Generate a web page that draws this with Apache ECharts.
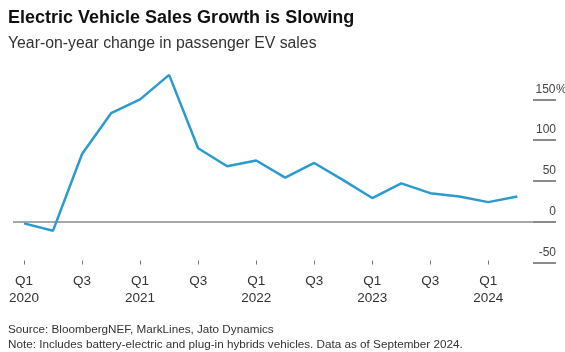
<!DOCTYPE html>
<html>
<head>
<meta charset="utf-8">
<script src="https://cdn.jsdelivr.net/npm/echarts@6/dist/echarts.min.js"></script>
<style>
  html, body { margin: 0; padding: 0; background: #fff; }
  #chart { width: 565px; height: 352px; }
</style>
</head>
<body>
<div id="chart"></div>
<script>
// Quarterly year-on-year change in passenger EV sales (%)
const quarters = [
  'Q1 2020', 'Q2 2020', 'Q3 2020', 'Q4 2020',
  'Q1 2021', 'Q2 2021', 'Q3 2021', 'Q4 2021',
  'Q1 2022', 'Q2 2022', 'Q3 2022', 'Q4 2022',
  'Q1 2023', 'Q2 2023', 'Q3 2023', 'Q4 2023',
  'Q1 2024', 'Q2 2024'
];
const yoyChange = [
  -2, -11, 83, 133,
  150, 180, 90, 68,
  75, 54, 72, 51,
  29, 47, 35, 31,
  24, 31
];
// Axis labels
const xTickIndex = [0, 2, 4, 6, 8, 10, 12, 14, 16];
const xTickLabels = ['Q1\n2020', 'Q3', 'Q1\n2021', 'Q3', 'Q1\n2022', 'Q3', 'Q1\n2023', 'Q3', 'Q1\n2024'];
const yTickValues = [-50, 0, 50, 100, 150];

const titleText = 'Electric Vehicle Sales Growth is Slowing';
const subtitleText = 'Year-on-year change in passenger EV sales';
const sourceText = 'Source: BloombergNEF, MarkLines, Jato Dynamics';
const noteText = 'Note: Includes battery-electric and plug-in hybrids vehicles. Data as of September 2024.';

const FONT = '"Liberation Sans", Arial, Helvetica, sans-serif';

const chart = echarts.init(document.getElementById('chart'), null, { renderer: 'canvas' });

chart.setOption({
  animation: false,
  backgroundColor: '#fff',
  textStyle: { fontFamily: FONT },
  title: [
    {
      text: titleText,
      left: 8, top: 9, padding: 0,
      textStyle: { fontFamily: FONT, fontSize: 18, fontWeight: 'bold', color: '#111' }
    },
    {
      text: subtitleText,
      left: 8, top: 36, padding: 0,
      textStyle: { fontFamily: FONT, fontSize: 15.8, fontWeight: 'normal', color: '#333' }
    },
    {
      text: sourceText + '\n' + noteText,
      left: 8, top: 322, padding: 0,
      textStyle: { fontFamily: FONT, fontSize: 11.7, fontWeight: 'normal', color: '#333', lineHeight: 15 }
    }
  ],
  // the y-axis sits at the right edge of the plot; its ticks continue the zero line
  grid: { left: 13, right: 32, top: 66.7, bottom: 89.5, containLabel: false, outerBoundsMode: 'none' },
  xAxis: {
    type: 'value',
    min: -0.38,
    max: 17.54,
    offset: -2,
    splitLine: { show: false },
    axisLine: { show: false, onZero: false },
    axisTick: {
      show: true,
      length: 4,
      customValues: xTickIndex,
      lineStyle: { color: '#777', width: 1 }
    },
    axisLabel: {
      customValues: xTickIndex,
      formatter: function (v) {
        const i = xTickIndex.indexOf(Math.round(v));
        return i >= 0 ? xTickLabels[i] : '';
      },
      margin: 12,
      lineHeight: 17,
      fontSize: 13.5,
      color: '#333',
      fontFamily: FONT
    }
  },
  yAxis: {
    type: 'value',
    position: 'right',
    min: -50,
    max: 190,
    splitLine: { show: false },
    axisLine: { show: false, onZero: false },
    axisTick: {
      show: true,
      length: 23,
      customValues: yTickValues,
      lineStyle: { color: '#666', width: 1.5 }
    },
    axisLabel: {
      margin: 2,
      customValues: yTickValues,
      verticalAlign: 'bottom',
      align: 'left',
      formatter: function (v) {
        return v === 150 ? '{n|150}{p|%}' : '{n|' + v + '}';
      },
      rich: {
        n: { fontSize: 12, color: '#444', fontFamily: FONT, width: 21, align: 'right', padding: [0, 0, 4, 0] },
        p: { fontSize: 12, color: '#444', fontFamily: FONT, padding: [0, 0, 4, 0] }
      }
    }
  },
  series: [
    {
      type: 'line',
      data: yoyChange.map((v, i) => [i, v]),
      showSymbol: false,
      symbol: 'none',
      lineStyle: { color: '#2a9bd0', width: 2.5 },
      clip: false,
      z: 3,
      markLine: {
        silent: true,
        symbol: 'none',
        label: { show: false },
        lineStyle: { color: '#8a8a8a', width: 1.5, type: 'solid' },
        data: [{ yAxis: 0 }],
        z: 2
      }
    }
  ]
});
</script>
</body>
</html>
